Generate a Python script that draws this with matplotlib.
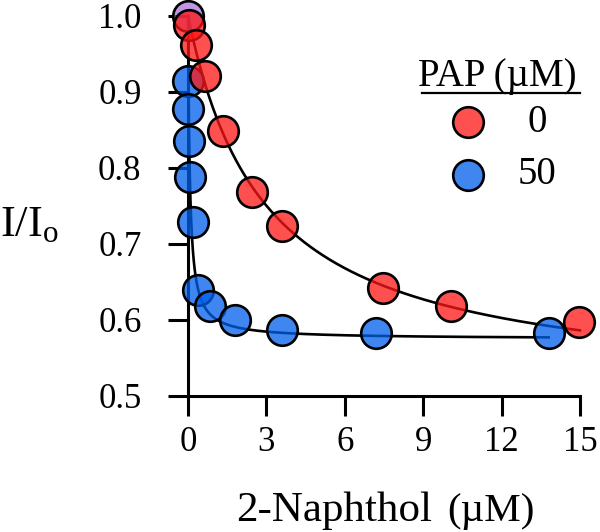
import numpy as np
import matplotlib
matplotlib.use("Agg")
import matplotlib.pyplot as plt
from matplotlib.lines import Line2D

plt.rcParams['font.family'] = ['Liberation Serif', 'DejaVu Serif']
plt.rcParams['mathtext.fontset'] = 'custom'
plt.rcParams['mathtext.rm'] = 'Liberation Serif'
plt.rcParams['mathtext.it'] = 'Liberation Serif:italic'

# ---- data ----
red_x = [0.05, 0.30, 0.65, 1.34, 2.45, 3.60, 7.46, 10.06, 14.96]
red_y = [0.988, 0.962, 0.921, 0.849, 0.768, 0.724, 0.642, 0.619, 0.598]
blue_x = [0.0, 0.01, 0.04, 0.08, 0.19, 0.38, 0.84, 1.80, 3.60, 7.20, 13.80]
blue_y = [0.914, 0.878, 0.835, 0.788, 0.729, 0.640, 0.618, 0.600, 0.587, 0.583, 0.583]
shared_x = [0.0]
shared_y = [1.0]

# fit parameters (hyperbolic quench, y = 1 - A*x/(K + x))
red_fit_A, red_fit_K, red_fit_xmax = 0.495, 2.95, 15.0
blue_fit_A, blue_fit_K, blue_fit_xmax = 0.425, 0.07, 13.8

x_ticks = [0, 3, 6, 9, 12, 15]
y_ticks = [0.5, 0.6, 0.7, 0.8, 0.9, 1.0]
legend_title = "PAP (µM)"
legend_labels = ["0", "50"]

W, H = 600, 532
fig = plt.figure(figsize=(W / 100, H / 100), dpi=100)
xlim = (-1.0, 15.7)
ylim = (0.5, 1.02)
ax = fig.add_axes([161.9 / W, 136 / H, 436.4 / W, 395.2 / H])
ax.set_xlim(*xlim)
ax.set_ylim(*ylim)

red_face = (1.0, 22 / 255, 22 / 255, 0.75)
blue_face = (0.0, 94 / 255, 235 / 255, 0.75)
purple_face = (168 / 255, 115 / 255, 215 / 255, 0.75)


def model(x, A, K):
    x = np.asarray(x)
    return 1 - A * x / (K + x)


xr = np.linspace(0, red_fit_xmax, 400)
xb = np.concatenate([np.linspace(0, 0.5, 300), np.linspace(0.5, blue_fit_xmax, 200)])
ax.plot(xb, model(xb, blue_fit_A, blue_fit_K), color='black', lw=1.9, zorder=2, clip_on=False)
ax.plot(xr, model(xr, red_fit_A, red_fit_K), color='black', lw=1.9, zorder=2, clip_on=False)

ms = 22
mew = 1.9
ax.plot(blue_x, blue_y, 'o', ms=ms, mfc=blue_face, mec='black', mew=mew, zorder=3, clip_on=False)
ax.plot(shared_x, shared_y, 'o', ms=ms, mfc=purple_face, mec='black', mew=mew, zorder=4, clip_on=False)
ax.plot(red_x, red_y, 'o', ms=ms, mfc=red_face, mec='black', mew=mew, zorder=5, clip_on=False)

for s in ['top', 'right']:
    ax.spines[s].set_visible(False)
ax.spines['left'].set_position(('data', 0))
ax.spines['left'].set_bounds(0.5, 1.0)
ax.spines['bottom'].set_position(('data', 0.5))
ax.spines['bottom'].set_bounds(0, 15)
for s in ['left', 'bottom']:
    ax.spines[s].set_linewidth(2.2)
    ax.spines[s].set_zorder(1)

ax.set_xticks(x_ticks)
ax.set_xticklabels([str(t) for t in x_ticks])
ax.set_yticks(y_ticks)
ax.set_yticklabels([f"{t:.1f}" for t in y_ticks])
ax.tick_params(axis='both', direction='out', length=14.5, width=2.2, labelsize=25)
ax.tick_params(axis='y', pad=19)
ax.tick_params(axis='x', pad=7)

# axis labels
fig.text(236 / W, 1 - 521 / H, "2-Naphthol", fontsize=31, ha='left', va='baseline')
fig.text(447 / W, 1 - 521 / H, "(µM)", fontsize=29.5, ha='left', va='baseline')
fig.text(0 / W, 1 - 236 / H, r"I/I$_\mathrm{o}$", fontsize=32, ha='left', va='baseline')

# legend
fig.text(418 / W, 1 - 86 / H, legend_title, fontsize=28, ha='left', va='baseline')
fig.add_artist(Line2D([422 / W, 580 / W], [1 - 93 / H, 1 - 93 / H], color='black', lw=1.6,
                      transform=fig.transFigure))
leg_y = [122, 175]
faces = [red_face, blue_face]
for yy, fc, lab in zip(leg_y, faces, legend_labels):
    fig.add_artist(Line2D([468 / W], [1 - yy / H], marker='o', ms=ms, mfc=fc, mec='black', mew=mew,
                          linestyle='none', transform=fig.transFigure))
    fig.text(537 / W, 1 - yy / H, lab, fontsize=28, ha='center', va='center')

fig.savefig("out.png", dpi=100)
